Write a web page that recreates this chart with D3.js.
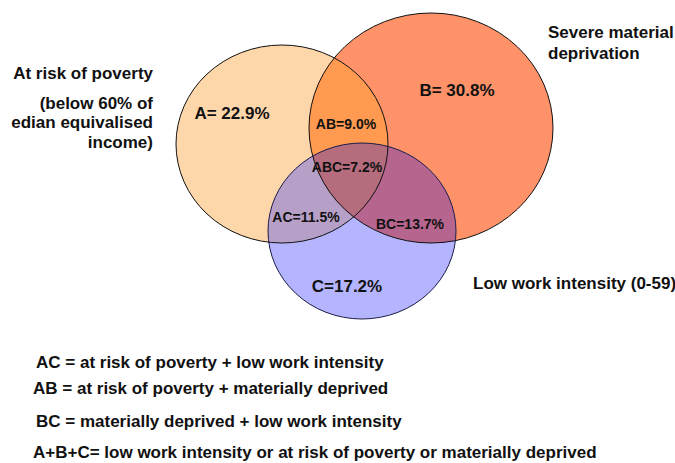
<!DOCTYPE html>
<html>
<head>
<meta charset="utf-8">
<script src="https://cdn.jsdelivr.net/npm/d3@7"></script>
<style>
  body { margin: 0; background: #fff; }
  text { font-family: "Liberation Sans", Arial, sans-serif; font-weight: 700; fill: #111; }
  .narrow { font-family: "Liberation Sans Narrow", "Arial Narrow", sans-serif; }
</style>
</head>
<body>
<svg></svg>
<script>
const w = 675
const h = 463

// sets and their shares (%)
const setKeys = ["A", "B", "C"]
const setShares = [22.9, 30.8, 17.2]
const setColors = ["#fdd6aa", "#ff9268", "#b5b5ff"]

// overlaps
const overlapKeys = ["AB", "AC", "BC", "ABC"]
const overlapShares = [9.0, 11.5, 13.7, 7.2]
const overlapColors = ["#ff9a50", "#b7a0c8", "#b6658f", "#b56c7c"]

// set titles
const titleA = ["At risk of poverty", "(below 60% of", "edian equivalised", "income)"]
const titleB = ["Severe material", "deprivation"]
const titleC = ["Low work intensity (0-59)"]

// notes under the diagram
const notes = [
    "AC = at risk of poverty + low work intensity",
    "AB = at risk of poverty + materially deprived",
    "BC = materially deprived + low work intensity",
    "A+B+C= low work intensity or at risk of poverty or materially deprived"
]

// ellipse layout (pixel space)
const ellipses = {
    A: { cx: 282, cy: 144, rx: 106, ry: 99 },
    B: { cx: 431, cy: 128, rx: 122, ry: 115 },
    C: { cx: 362, cy: 231, rx: 94, ry: 88 }
}

const svg = d3.select("svg").attr("width", w).attr("height", h)
const defs = svg.append("defs")

setKeys.forEach(k => {
    const e = ellipses[k]
    defs.append("clipPath").attr("id", "clip" + k)
        .append("ellipse")
        .attr("cx", e.cx).attr("cy", e.cy).attr("rx", e.rx).attr("ry", e.ry)
})

const drawEllipse = (sel, k) => {
    const e = ellipses[k]
    return sel.append("ellipse")
        .attr("cx", e.cx).attr("cy", e.cy).attr("rx", e.rx).attr("ry", e.ry)
}

// base sets
const base = svg.append("g")
setKeys.forEach((k, i) => {
    drawEllipse(base, k).attr("fill", setColors[i])
})

// overlaps: draw the last letter's shape clipped by the other letters
const over = svg.append("g")
overlapKeys.forEach((key, i) => {
    const letters = key.split("")
    const shape = letters[letters.length - 1]
    let g = over
    letters.slice(0, -1).forEach(l => {
        g = g.append("g").attr("clip-path", `url(#clip${l})`)
    })
    drawEllipse(g, shape).attr("fill", overlapColors[i])
})

// outlines
const outl = svg.append("g")
setKeys.forEach(k => {
    drawEllipse(outl, k)
        .attr("fill", "none")
        .attr("stroke", k === "C" ? "#1c1c48" : "#111")
        .attr("stroke-width", 1)
})

// value labels
const valuePos = {
    A: [232, 119], B: [457, 96], C: [347, 292],
    AB: [346, 129], AC: [306, 222], BC: [410, 229], ABC: [347, 172]
}
setKeys.forEach((k, i) => {
    const sep = k === "C" ? "=" : "= "
    svg.append("text")
        .attr("x", valuePos[k][0]).attr("y", valuePos[k][1])
        .attr("text-anchor", "middle")
        .style("font-size", "17px")
        .text(`${k}${sep}${setShares[i].toFixed(1)}%`)
})
overlapKeys.forEach((k, i) => {
    svg.append("text")
        .attr("x", valuePos[k][0]).attr("y", valuePos[k][1])
        .attr("text-anchor", "middle")
        .style("font-size", "14px")
        .text(`${k}=${overlapShares[i].toFixed(1)}%`)
})

// titles
const titleAY = [79, 109, 128, 148]
titleA.forEach((t, i) => {
    svg.append("text")
        .attr("x", 153).attr("y", titleAY[i])
        .attr("text-anchor", "end")
        .style("font-size", "17px")
        .text(t)
})
titleB.forEach((t, i) => {
    svg.append("text")
        .attr("x", 548).attr("y", 38 + i * 21)
        .style("font-size", "17px")
        .text(t)
})
titleC.forEach(t => {
    svg.append("text")
        .attr("x", 473).attr("y", 289)
        .style("font-size", "17px")
        .text(t)
})

// notes
const noteX = [36, 33, 36, 33]
const noteY = [368, 394, 427, 458]
notes.forEach((t, i) => {
    svg.append("text")
        .attr("class", "narrow")
        .attr("x", noteX[i]).attr("y", noteY[i])
        .style("font-size", "17px")
        .text(t)
})
</script>
</body>
</html>
